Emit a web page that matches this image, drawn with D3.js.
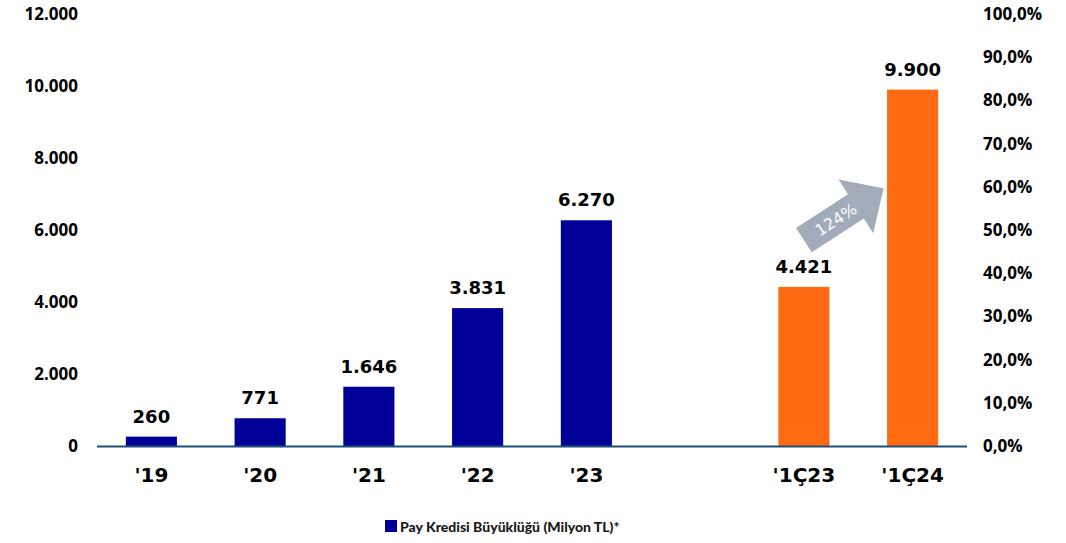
<!DOCTYPE html>
<html>
<head>
<meta charset="utf-8">
<script src="https://cdn.jsdelivr.net/npm/d3@7"></script>
<style>
    body { margin: 0; background: #fff; }
    svg { display: block; }
</style>
</head>
<body>
<div id="chart"></div>
<script>
// data
var categories = ["'19", "'20", "'21", "'22", "'23", "", "'1Ç23", "'1Ç24"];
var values = [260, 771, 1646, 3831, 6270, null, 4421, 9900];
var barColors = ["#000099", "#000099", "#000099", "#000099", "#000099", null, "#FF6A13", "#FF6A13"];
var leftTicks = [0, 2000, 4000, 6000, 8000, 10000, 12000];
var rightTicks = [0, 0.1, 0.2, 0.3, 0.4, 0.5, 0.6, 0.7, 0.8, 0.9, 1.0];
var growthLabel = "124%";
var legendLabel = "Pay Kredisi Büyüklüğü (Milyon TL)*";

var width = 1066, height = 543;
var margin = {top: 14, right: 99, bottom: 97, left: 97};
var innerW = width - margin.left - margin.right;
var innerH = height - margin.top - margin.bottom;

var svg = d3.select("#chart").append("svg")
    .attr("width", width)
    .attr("height", height);

var g = svg.append("g")
    .attr("transform", "translate(" + margin.left + "," + margin.top + ")");

var x = d3.scaleBand()
    .domain(d3.range(categories.length))
    .range([0, innerW])
    .paddingInner(0.53)
    .paddingOuter(0.265);

var y = d3.scaleLinear().domain([0, 12000]).range([innerH, 0]);
var y2 = d3.scaleLinear().domain([0, 1]).range([innerH, 0]);

var trFmt = d3.formatLocale({decimal: ",", thousands: ".", grouping: [3], currency: ["", ""]});
var numFmt = trFmt.format(",.0f");
var pctFmt = trFmt.format(".1%");

var tickFont = "'Open Sans', Lato, sans-serif";
var boldFont = "'DejaVu Sans', Verdana, sans-serif";

// sol eksen
var leftAxis = g.append("g")
    .call(d3.axisLeft(y).tickValues(leftTicks).tickFormat(numFmt).tickSize(0).tickPadding(19));
leftAxis.select(".domain").remove();
leftAxis.selectAll("text")
    .attr("font-family", tickFont)
    .attr("font-weight", "bold")
    .attr("font-size", 17)
    .attr("fill", "#000");

// sag eksen
var rightAxis = g.append("g")
    .attr("transform", "translate(" + innerW + ",0)")
    .call(d3.axisRight(y2).tickValues(rightTicks).tickFormat(pctFmt).tickSize(0).tickPadding(16));
rightAxis.select(".domain").remove();
rightAxis.selectAll("text")
    .attr("font-family", tickFont)
    .attr("font-weight", "bold")
    .attr("font-size", 17)
    .attr("fill", "#000");

// barlar
var data = categories.map(function (c, i) {
    return {i: i, cat: c, value: values[i], color: barColors[i]};
}).filter(function (d) { return d.value !== null; });

g.selectAll(".bar")
    .data(data)
    .enter().append("rect")
    .attr("class", "bar")
    .attr("x", function (d) { return x(d.i); })
    .attr("width", x.bandwidth())
    .attr("y", function (d) { return y(d.value); })
    .attr("height", function (d) { return innerH - y(d.value); })
    .attr("fill", function (d) { return d.color; });

// deger etiketleri
g.selectAll(".val")
    .data(data)
    .enter().append("text")
    .attr("class", "val")
    .attr("x", function (d) { return x(d.i) + x.bandwidth() / 2; })
    .attr("y", function (d) { return y(d.value) - 14; })
    .attr("text-anchor", "middle")
    .attr("font-family", boldFont)
    .attr("font-weight", "bold")
    .attr("font-size", 18)
    .attr("fill", "#000")
    .text(function (d) { return numFmt(d.value); });

// x ekseni cizgisi
g.append("line")
    .attr("x1", 0).attr("x2", innerW)
    .attr("y1", innerH + 0.5).attr("y2", innerH + 0.5)
    .attr("stroke", "#1F4E79")
    .attr("stroke-width", 2);

// kategori etiketleri
g.selectAll(".cat")
    .data(data)
    .enter().append("text")
    .attr("class", "cat")
    .attr("x", function (d) { return x(d.i) + x.bandwidth() / 2; })
    .attr("y", innerH + 36)
    .attr("text-anchor", "middle")
    .attr("font-family", boldFont)
    .attr("font-weight", "bold")
    .attr("font-size", 20)
    .attr("fill", "#000")
    .text(function (d) { return d.cat; });

// buyume oku
var ax = x(6) + x.bandwidth() / 2, ay = y(5720);
var arrow = g.append("g")
    .attr("transform", "translate(" + ax + "," + ay + ") rotate(-33)");
arrow.append("path")
    .attr("d", "M0,-14.5 L62,-14.5 L62,-32 L95,0 L62,32 L62,14.5 L0,14.5 Z")
    .attr("fill", "#A2ABBA");
arrow.append("text")
    .attr("x", 38)
    .attr("y", 6)
    .attr("text-anchor", "middle")
    .attr("font-family", boldFont)
    .attr("font-size", 16)
    .attr("fill", "#fff")
    .text(growthLabel);

// legend
var legend = svg.append("g").attr("transform", "translate(385,520)");
legend.append("rect")
    .attr("width", 12).attr("height", 12)
    .attr("fill", "#000099");
legend.append("text")
    .attr("x", 15)
    .attr("y", 11.5)
    .attr("font-family", "Lato, 'Open Sans', sans-serif")
    .attr("font-weight", "900")
    .attr("font-size", 14)
    .attr("fill", "#1a1a1a")
    .text(legendLabel);
</script>
</body>
</html>
